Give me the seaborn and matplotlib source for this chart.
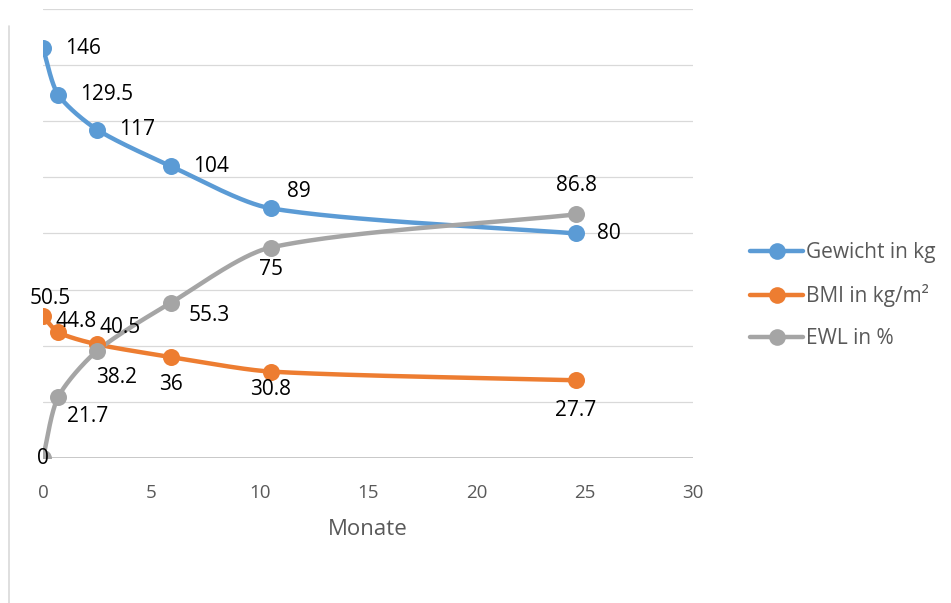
import numpy as np
import matplotlib
matplotlib.use("Agg")
import matplotlib.pyplot as plt
from matplotlib.lines import Line2D
import seaborn as sns

# Months after surgery
monate = [0, 0.7, 2.5, 5.9, 10.5, 24.6]
gewicht = [146, 129.5, 117, 104, 89, 80]
bmi = [50.5, 44.8, 40.5, 36, 30.8, 27.7]
ewl = [0, 21.7, 38.2, 55.3, 75, 86.8]

serien = ["Gewicht in kg", "BMI in kg/m²", "EWL in %"]
farben = ["#5B9BD5", "#ED7D31", "#A5A5A5"]
x_ticks = [0, 5, 10, 15, 20, 25, 30]
y_grid = [20, 40, 60, 80, 100, 120, 140, 160]

sns.set_theme(style="white")
plt.rcParams["font.family"] = ["Open Sans", "DejaVu Sans"]

fig = plt.figure(figsize=(9.51, 6.03), dpi=100)
ax = fig.add_axes([43 / 951, 1 - 458 / 603, 650 / 951, 449 / 603])
ax.set_xlim(0, 30)
ax.set_ylim(0, 160)


def smooth(xs, ys, n=50, k=0.26):
    """Bezier smoothing of a polyline in display space; handle length follows each segment."""
    pts = ax.transData.transform(np.column_stack([xs, ys]))
    m = len(pts)
    tang = []
    for i in range(m):
        a = pts[i - 1] if i > 0 else pts[i]
        b = pts[i + 1] if i + 1 < m else pts[i]
        d = b - a
        tang.append(d / np.linalg.norm(d))
    out = [pts[0]]
    for i in range(m - 1):
        p1, p2 = pts[i], pts[i + 1]
        L = np.linalg.norm(p2 - p1)
        c1 = p1 + tang[i] * L * k
        c2 = p2 - tang[i + 1] * L * k
        t = np.linspace(0, 1, n)[1:, None]
        seg = ((1 - t) ** 3) * p1 + 3 * ((1 - t) ** 2) * t * c1 + 3 * (1 - t) * t ** 2 * c2 + t ** 3 * p2
        out.extend(seg)
    out = ax.transData.inverted().transform(np.array(out))
    return out[:, 0], out[:, 1]


# grid lines
for g in y_grid:
    ax.axhline(g, color="#D9D9D9", lw=0.9, zorder=0)
ax.axhline(0, color="#BFBFBF", lw=1.2, zorder=0)

for werte, farbe in zip([gewicht, bmi, ewl], farben):
    sx, sy = smooth(monate, werte)
    sns.lineplot(x=sx, y=sy, sort=False, estimator=None, color=farbe, lw=3.2, ax=ax, zorder=3)
    sns.scatterplot(x=monate, y=werte, color=farbe, s=150, edgecolor=farbe, linewidth=0, ax=ax, zorder=4)

# data labels: (offset in points, alignment)
lab_fs = 15
txt = "#000000"
gewicht_off = [(16, 0, "left"), (16, 0, "left"), (16, 0, "left"), (16, 0, "left"), (12, 12, "left"), (15, 0, "left")]
bmi_off = [(5, 13, "center"), (-2, 8, "left"), (2, 12, "left"), (0, -20, "center"), (0, -13, "center"), (0, -22, "center")]
ewl_off = [(0, 0, "center"), (6, -14, "left"), (-1, -19, "left"), (13, -9, "left"), (0, -16, "center"), (0, 21, "center")]

for werte, offs in zip([gewicht, bmi, ewl], [gewicht_off, bmi_off, ewl_off]):
    for xv, yv, (dx, dy, ha) in zip(monate, werte, offs):
        lbl = f"{yv:g}"
        ax.annotate(lbl, (xv, yv), xytext=(dx, dy), textcoords="offset points",
                    ha=ha, va="center", fontsize=lab_fs, color=txt, zorder=6)

ax.set_xticks(x_ticks)
ax.set_xticklabels([str(v) for v in x_ticks])
ax.set_yticks([])
ax.tick_params(axis="x", length=0, pad=19, labelsize=13.5, labelcolor="#595959")
ax.set_xlabel("Monate", fontsize=16, color="#595959", labelpad=12)
for s in ax.spines.values():
    s.set_visible(False)
ax.patch.set_alpha(0)

# outer chart border on the left
fig.add_artist(Line2D([9 / 951, 9 / 951], [0, 1 - 26 / 603], transform=fig.transFigure,
                      color="#D9D9D9", lw=1.2))

handles = [Line2D([0], [0], color=c, lw=3.2, marker="o", markersize=12, markeredgewidth=0)
           for c in farben]
leg = fig.legend(handles, serien, loc="upper left", bbox_to_anchor=(742 / 951, 1 - 234 / 603),
                 frameon=False, fontsize=15, handlelength=2.55, handletextpad=0.1,
                 labelspacing=1.0, borderaxespad=0)
for t in leg.get_texts():
    t.set_color("#595959")

fig.savefig("out.png", dpi=100)
